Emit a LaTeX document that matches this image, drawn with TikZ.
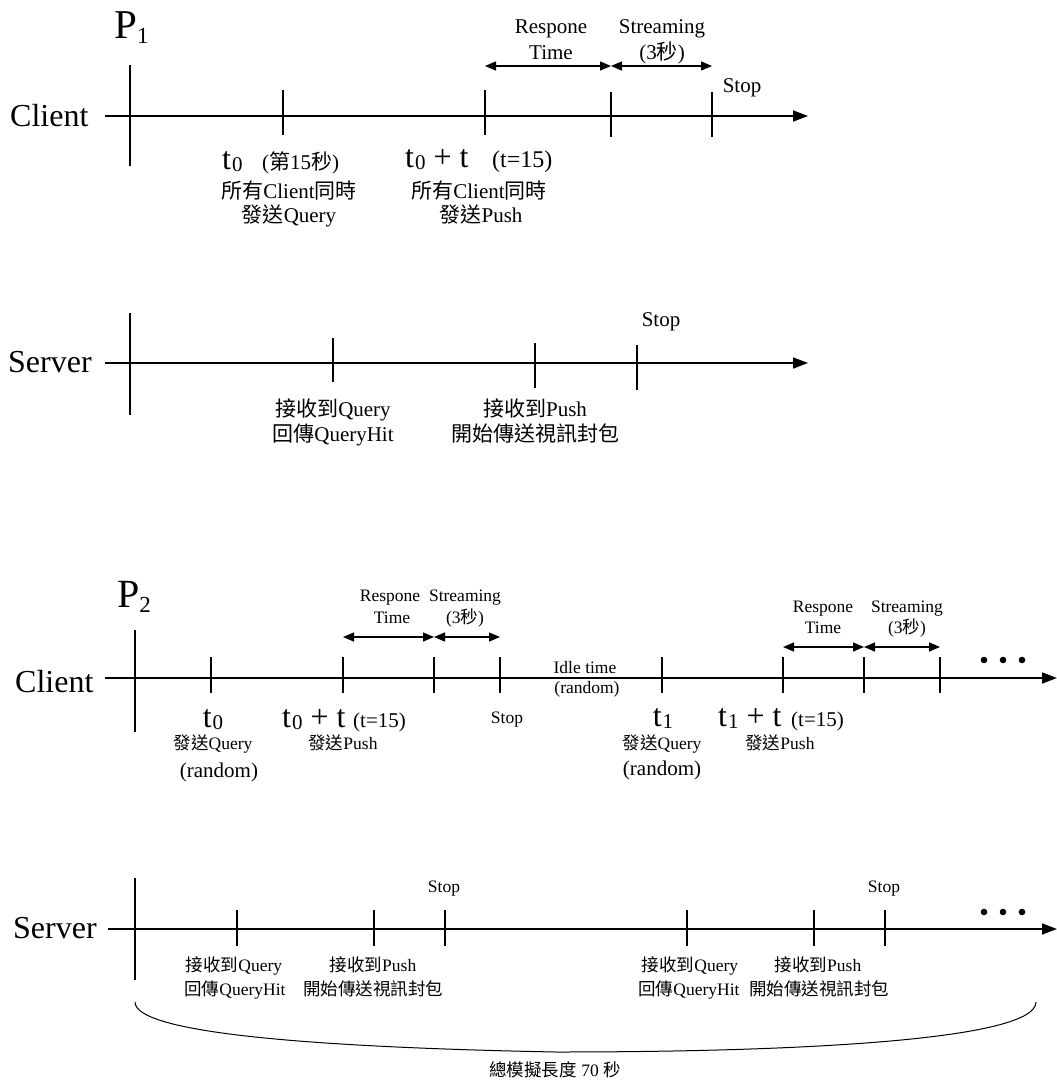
\documentclass[tikz,border=0pt]{standalone}
\usepackage{fontspec}
\setmainfont{Liberation Serif}
\newfontfamily\cjk{Noto Sans CJK TC}
\usetikzlibrary{arrows.meta}

% font size in pt, CJK run, lowered subscript
\newcommand\fs[1]{\fontsize{#1}{#1}\selectfont}
\newcommand\zh[1]{{\cjk #1}}
\newcommand\dn[1]{\kern1pt\raisebox{-2pt}{\fs{21}#1}}
% a vertical event mark: name, x, top y, bottom y
\newcommand\tickmark[4]{%
  \coordinate (#1t) at (#2,#3);
  \coordinate (#1b) at (#2,#4);
  \draw[tickline] (#1t) -- (#1b);}

\begin{document}
\begin{tikzpicture}[x=1pt,y=-1pt,
  lbl/.style={inner sep=0pt, anchor=base},
  lblw/.style={inner sep=0pt, anchor=base west},
  big/.style={font=\fs{32}},
  mid/.style={font=\fs{21}},
  sml/.style={font=\fs{17.5}},
  axis/.style={line width=1.6pt, -{Triangle[length=15pt,width=11pt]}},
  tickline/.style={line width=1.3pt},
  span/.style={line width=1.3pt, {Triangle[length=11pt,width=9pt]}-{Triangle[length=11pt,width=9pt]}},
  dot/.style={circle, fill=black, inner sep=0pt, minimum size=6.6pt},
]
\fill[white] (0,0) rectangle (1057,1084);
\useasboundingbox (0,0) rectangle (1057,1084);

% ================= P1 =================
\node[lblw, font=\fs{41}] (p1) at (114,38) {P\raisebox{-5pt}{\fs{23}1}};

% --- client line
\node[lblw, big] (c1name) at (10,126) {Client};
\coordinate (c1s) at (105,116);
\coordinate (c1e) at (808,116);
\draw[axis] (c1s) -- (c1e);
\tickmark{c1o}{130}{65}{166}
\tickmark{c1q}{283}{90}{135}
\tickmark{c1p}{485}{90}{135}
\tickmark{c1r}{611}{92}{137}
\tickmark{c1x}{712}{92}{137}

\coordinate (c1a1) at (485,66);
\coordinate (c1a2) at (611,66);
\coordinate (c1a3) at (712,66);
\draw[span] (c1a1) -- (c1a2);
\draw[span] (c1a2) -- (c1a3);
\node[lbl, mid] (c1resp) at (551,33) {Respone};
\node[lbl, mid] (c1time) at (551,59) {Time};
\node[lbl, mid] (c1strm) at (662,33) {Streaming};
\node[lbl, mid] (c1sec)  at (662,59) {(3\zh{秒})};
\node[lbl, mid] (c1stop) at (742,92) {Stop};

\node[lblw, big] (c1t0) at (222,169) {t\dn{0}};
\node[lblw, mid] (c1t0n) at (262,169) {(\zh{第}15\zh{秒})};
\node[lbl, mid] (c1q1) at (289,198) {\zh{所有}Client\zh{同時}};
\node[lbl, mid] (c1q2) at (289,222) {\zh{發送}Query};

\node[lblw, big] (c1tt) at (405,167) {t\dn{0} + t};
\node[lblw, font=\fs{24}] (c1ttn) at (492,167) {(t=15)};
\node[lbl, mid] (c1p1) at (479,198) {\zh{所有}Client\zh{同時}};
\node[lbl, mid] (c1p2) at (481,222) {\zh{發送}Push};

% --- server line
\node[lblw, big] (s1name) at (8,372) {Server};
\coordinate (s1s) at (105,363);
\coordinate (s1e) at (808,363);
\draw[axis] (s1s) -- (s1e);
\tickmark{s1o}{130}{313}{415}
\tickmark{s1q}{333}{338}{382}
\tickmark{s1p}{535}{343}{388}
\tickmark{s1x}{637}{345}{390}
\node[lbl, mid] (s1stop) at (661,326) {Stop};
\node[lbl, mid] (s1q1) at (333,416) {\zh{接收到}Query};
\node[lbl, mid] (s1q2) at (333,441) {\zh{回傳}QueryHit};
\node[lbl, mid] (s1p1) at (535,416) {\zh{接收到}Push};
\node[lbl, mid] (s1p2) at (535,441) {\zh{開始傳送視訊封包}};

% ================= P2 =================
\node[lblw, font=\fs{40}] (p2) at (117,607) {P\raisebox{-5pt}{\fs{23}2}};

% --- client line
\node[lblw, big] (c2name) at (15,692) {Client};
\coordinate (c2s) at (105,678);
\coordinate (c2e) at (1057,678);
\draw[axis] (c2s) -- (c2e);
\tickmark{c2o}{135}{630}{732}
\tickmark{c2qa}{211}{657}{693}
\tickmark{c2pa}{343}{657}{693}
\tickmark{c2ra}{434}{657}{693}
\tickmark{c2xa}{500}{657}{693}
\tickmark{c2qb}{662}{657}{693}
\tickmark{c2pb}{783}{657}{693}
\tickmark{c2rb}{864}{657}{693}
\tickmark{c2xb}{940}{657}{693}

\coordinate (c2a1) at (343,637);
\coordinate (c2a2) at (434,637);
\coordinate (c2a3) at (500,637);
\draw[span] (c2a1) -- (c2a2);
\draw[span] (c2a2) -- (c2a3);
\node[lbl, sml] (c2resp) at (390,601) {Respone};
\node[lbl, sml] (c2time) at (392,623) {Time};
\node[lbl, sml] (c2strm) at (465,601) {Streaming};
\node[lbl, sml] (c2sec)  at (465,623) {(3\zh{秒})};
\node[lbl, sml] (c2stop) at (507,723) {Stop};

\coordinate (c2b1) at (783,647);
\coordinate (c2b2) at (864,647);
\coordinate (c2b3) at (940,647);
\draw[span] (c2b1) -- (c2b2);
\draw[span] (c2b2) -- (c2b3);
\node[lbl, sml] (c2resp2) at (823,612) {Respone};
\node[lbl, sml] (c2time2) at (823,633) {Time};
\node[lbl, sml] (c2strm2) at (907,612) {Streaming};
\node[lbl, sml] (c2sec2)  at (907,633) {(3\zh{秒})};

\node[lbl, sml] (c2idle) at (585,673) {Idle time};
\node[lbl, sml] (c2idr)  at (587,693) {(random)};

\node[lbl, big] (c2t0) at (213,727) {t\dn{0}};
\node[lbl, sml] (c2q1) at (213,749) {\zh{發送}Query};
\node[lbl, mid] (c2q2) at (219,777) {(random)};
\node[lblw, big] (c2tt) at (282,727) {t\dn{0} + t};
\node[lblw, mid] (c2ttn) at (353,727) {(t=15)};
\node[lbl, sml] (c2p1) at (343,749) {\zh{發送}Push};

\node[lbl, big] (c2t1) at (663,726) {t\dn{1}};
\node[lbl, sml] (c2q3) at (662,749) {\zh{發送}Query};
\node[lbl, mid] (c2q4) at (662,775) {(random)};
\node[lblw, big] (c2t1t) at (718,726) {t\dn{1} + t};
\node[lblw, mid] (c2t1n) at (791,726) {(t=15)};
\node[lbl, sml] (c2p2) at (780,749) {\zh{發送}Push};

\node[dot] (c2d1) at (984,660) {};
\node[dot] (c2d2) at (1003,660) {};
\node[dot] (c2d3) at (1022,660) {};

% --- server line
\node[lblw, big] (s2name) at (13,938) {Server};
\coordinate (s2s) at (108,929);
\coordinate (s2e) at (1057,929);
\draw[axis] (s2s) -- (s2e);
\tickmark{s2o}{135}{878}{980}
\tickmark{s2qa}{237}{910}{946}
\tickmark{s2pa}{374}{910}{946}
\tickmark{s2xa}{445}{910}{946}
\tickmark{s2qb}{687}{910}{946}
\tickmark{s2pb}{814}{910}{946}
\tickmark{s2xb}{885}{910}{946}
\node[lbl, sml] (s2stop1) at (444,892) {Stop};
\node[lbl, sml] (s2stop2) at (884,892) {Stop};

\node[lbl, sml] (s2q1) at (234,971) {\zh{接收到}Query};
\node[lbl, sml] (s2q2) at (235,995) {\zh{回傳}QueryHit};
\node[lbl, sml] (s2p1) at (373,971) {\zh{接收到}Push};
\node[lbl, sml] (s2p2) at (373,995) {\zh{開始傳送視訊封包}};
\node[lbl, sml] (s2q3) at (690,971) {\zh{接收到}Query};
\node[lbl, sml] (s2q4) at (689,995) {\zh{回傳}QueryHit};
\node[lbl, sml] (s2p3) at (818,971) {\zh{接收到}Push};
\node[lbl, sml] (s2p4) at (819,995) {\zh{開始傳送視訊封包}};

\node[dot] (s2d1) at (984,912) {};
\node[dot] (s2d2) at (1003,912) {};
\node[dot] (s2d3) at (1022,912) {};

% --- total span brace
\coordinate (brl) at (135,1002);
\coordinate (brm) at (556,1052);
\coordinate (brr) at (1036,1002);
\draw[line width=1pt] (brl) .. controls (135,1032) and (300,1047) .. (brm)
  .. controls (800,1052) and (1036,1040) .. (brr);
\node[lbl, sml] (total) at (555,1076) {\zh{總模擬長度} 70 \zh{秒}};
\end{tikzpicture}
\end{document}
